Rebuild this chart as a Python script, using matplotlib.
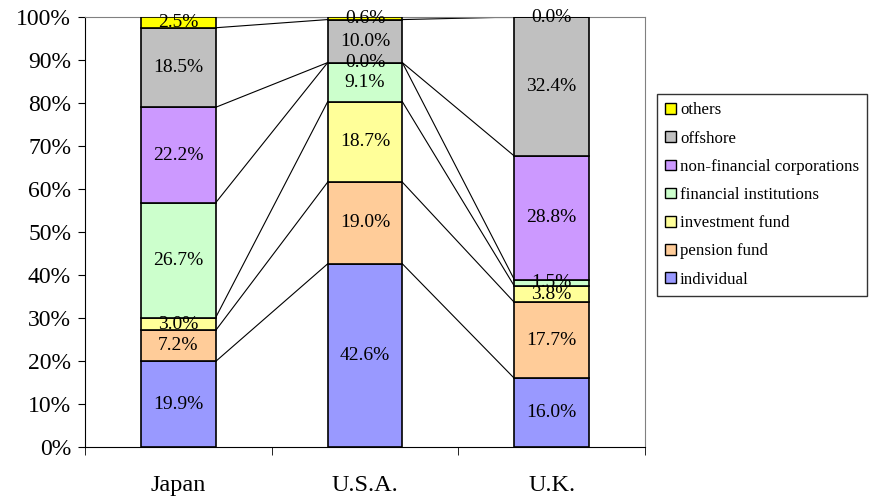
import numpy as np
import matplotlib
matplotlib.use("Agg")
import matplotlib.pyplot as plt
from matplotlib.patches import Patch

plt.rcParams["font.family"] = ["Liberation Serif", "DejaVu Serif"]

# ── Data ──────────────────────────────────────────────────────────────────────
countries = ["Japan", "U.S.A.", "U.K."]
series = ["individual", "pension fund", "investment fund", "financial institutions",
          "non-financial corporations", "offshore", "others"]
values = {
    "individual":                 [19.9, 42.6, 16.0],
    "pension fund":               [7.2, 19.0, 17.7],
    "investment fund":            [3.0, 18.7, 3.8],
    "financial institutions":     [26.7, 9.1, 1.5],
    "non-financial corporations": [22.2, 0.0, 28.8],
    "offshore":                   [18.5, 10.0, 32.4],
    "others":                     [2.5, 0.6, 0.0],
}
colors = ["#9999FF", "#FFCC99", "#FFFF99", "#CCFFCC", "#CC99FF", "#C0C0C0", "#FFFF00"]

# ── Figure ────────────────────────────────────────────────────────────────────
fig = plt.figure(figsize=(8.72, 5.0), dpi=100)
ax = fig.add_axes([85 / 872, 53 / 500, 560 / 872, 430 / 500])

x = np.arange(len(countries))
width = 0.4
data = np.array([values[s] for s in series])
shares = data / data.sum(axis=0) * 100
bottoms = np.zeros(len(countries))
tops = []

for s, col, share, raw in zip(series, colors, shares, data):
    ax.bar(x, share, width, bottom=bottoms, color=col, edgecolor="black",
           linewidth=1.2, zorder=3)
    for xi, b, h, v in zip(x, bottoms, share, raw):
        ax.text(xi, b + h / 2, f"{v:.1f}%", ha="center", va="center",
                fontsize=14, zorder=4, clip_on=False)
    bottoms = bottoms + share
    tops.append(bottoms.copy())

# series lines between bars
for t in tops:
    for i in range(len(countries) - 1):
        ax.plot([x[i] + width / 2, x[i + 1] - width / 2], [t[i], t[i + 1]],
                color="black", linewidth=0.8, zorder=2)

ax.set_xlim(-0.5, 2.5)
ax.set_ylim(0, 100)
ax.set_yticks(np.arange(0, 101, 10))
ax.set_yticklabels([f"{v}%" for v in range(0, 101, 10)], fontsize=17)
ax.set_xticks(x)
ax.set_xticklabels(countries, fontsize=17.5)
ax.tick_params(axis="x", which="major", length=0, pad=20)
ax.set_xticks([-0.5, 0.5, 1.5, 2.5], minor=True)
ax.tick_params(axis="x", which="minor", length=6, direction="out")
ax.tick_params(axis="y", length=5, direction="out", pad=5)

for side in ["left", "bottom"]:
    ax.spines[side].set_color("black")
for side in ["top", "right"]:
    ax.spines[side].set_color("#808080")

handles = [Patch(facecolor=c, edgecolor="black", label=s)
           for s, c in zip(series, colors)][::-1]
leg = fig.legend(handles=handles, loc="upper left",
                 bbox_to_anchor=(657 / 872, 1 - 94 / 500), fontsize=12.2,
                 frameon=True, fancybox=False, edgecolor="black",
                 handlelength=0.6, handleheight=0.6, handletextpad=0.25,
                 labelspacing=0.72, borderpad=0.5, borderaxespad=0)
leg.get_frame().set_linewidth(1.0)

fig.savefig("out.png", dpi=100)
